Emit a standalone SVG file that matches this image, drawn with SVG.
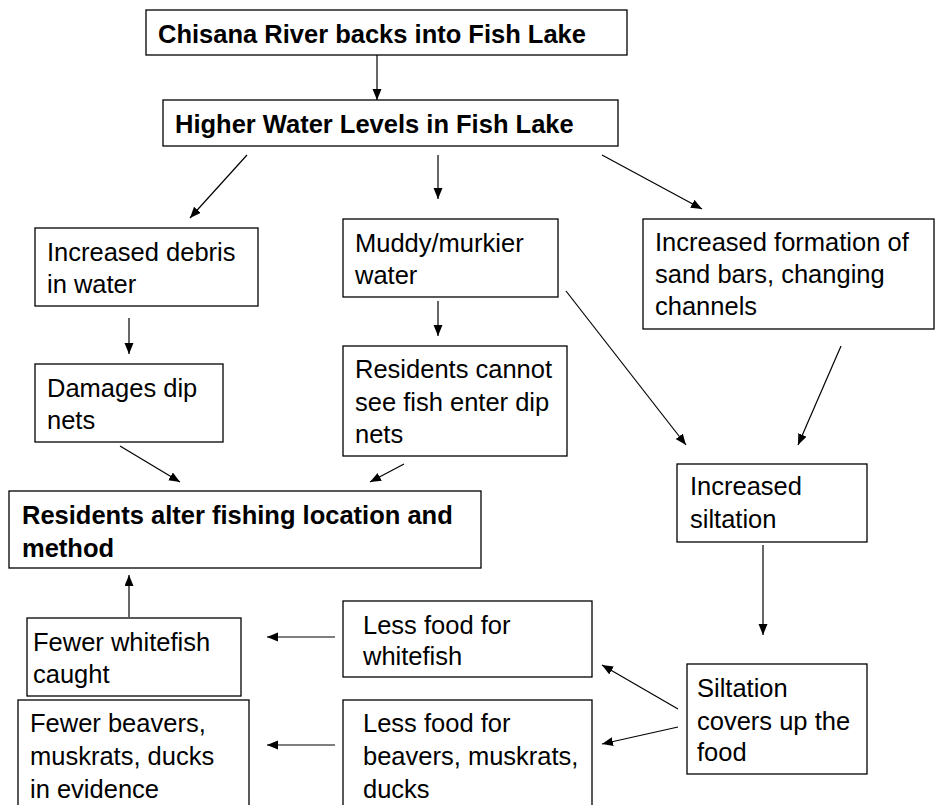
<svg xmlns="http://www.w3.org/2000/svg" width="935" height="805" viewBox="0 0 935 805">
  <defs>
    <marker id="arrow" markerUnits="userSpaceOnUse" markerWidth="12" markerHeight="10" refX="11" refY="4.5" orient="auto">
      <path d="M0,0 L11,4.5 L0,9 Z" fill="#000"/>
    </marker>
  </defs>
  <style>
    .box { fill: #fff; stroke: #000; stroke-width: 1.3; }
    .t { font-family: "Liberation Sans", Arial, sans-serif; font-size: 25.5px; fill: #000; }
    .b { font-weight: bold; }
    .conn line { stroke: #000; stroke-width: 1.2; marker-end: url(#arrow); }
  </style>
  <rect width="935" height="805" fill="#fff"/>

  <!-- connectors -->
  <g id="connectors" class="conn">
    <line x1="377" y1="55" x2="377" y2="100"/>
    <line x1="247" y1="155" x2="190" y2="218"/>
    <line x1="438" y1="155" x2="438" y2="199"/>
    <line x1="602" y1="155" x2="702" y2="209"/>
    <line x1="129" y1="318" x2="129" y2="354"/>
    <line x1="438" y1="301" x2="438" y2="336"/>
    <line x1="120" y1="446" x2="180" y2="482"/>
    <line x1="404" y1="464" x2="370" y2="482"/>
    <line x1="566" y1="291" x2="686" y2="445"/>
    <line x1="841" y1="346" x2="798" y2="445"/>
    <line x1="763" y1="545" x2="763" y2="635"/>
    <line x1="678" y1="709" x2="602" y2="665"/>
    <line x1="678" y1="727" x2="602" y2="744"/>
    <line x1="335" y1="637" x2="267" y2="637"/>
    <line x1="335" y1="745" x2="267" y2="745"/>
    <line x1="129" y1="617" x2="129" y2="575"/>
  </g>

  <g id="chisana">
    <rect class="box" x="146" y="10" width="481" height="45"/>
    <text class="t b" x="158" y="43">Chisana River backs into Fish Lake</text>
  </g>

  <g id="higher-water">
    <rect class="box" x="163" y="100" width="455" height="46"/>
    <text class="t b" x="175" y="133">Higher Water Levels in Fish Lake</text>
  </g>

  <g id="debris">
    <rect class="box" x="35" y="228" width="223" height="78"/>
    <text class="t" x="47" y="261">Increased debris</text>
    <text class="t" x="47" y="293">in water</text>
  </g>

  <g id="muddy">
    <rect class="box" x="343" y="219" width="215" height="78"/>
    <text class="t" x="355" y="252">Muddy/murkier</text>
    <text class="t" x="355" y="284">water</text>
  </g>

  <g id="sandbars">
    <rect class="box" x="643" y="219" width="291" height="110"/>
    <text class="t" x="655" y="251">Increased formation of</text>
    <text class="t" x="655" y="283">sand bars, changing</text>
    <text class="t" x="655" y="315">channels</text>
  </g>

  <g id="damages">
    <rect class="box" x="35" y="364" width="188" height="78"/>
    <text class="t" x="47" y="397">Damages dip</text>
    <text class="t" x="47" y="429">nets</text>
  </g>

  <g id="cannot-see">
    <rect class="box" x="343" y="346" width="224" height="110"/>
    <text class="t" x="355" y="378">Residents cannot</text>
    <text class="t" x="355" y="411">see fish enter dip</text>
    <text class="t" x="355" y="443">nets</text>
  </g>

  <g id="siltation">
    <rect class="box" x="677" y="464" width="190" height="78"/>
    <text class="t" x="690" y="495">Increased</text>
    <text class="t" x="690" y="528">siltation</text>
  </g>

  <g id="alter-fishing">
    <rect class="box" x="9" y="491" width="472" height="77"/>
    <text class="t b" x="22" y="524">Residents alter fishing location and</text>
    <text class="t b" x="22" y="557">method</text>
  </g>

  <g id="fewer-whitefish">
    <rect class="box" x="27" y="618" width="214" height="78"/>
    <text class="t" x="33" y="651">Fewer whitefish</text>
    <text class="t" x="33" y="683">caught</text>
  </g>

  <g id="less-food-whitefish">
    <rect class="box" x="343" y="601" width="249" height="76"/>
    <text class="t" x="363" y="634">Less food for</text>
    <text class="t" x="363" y="665">whitefish</text>
  </g>

  <g id="covers-food">
    <rect class="box" x="687" y="664" width="180" height="110"/>
    <text class="t" x="697" y="697">Siltation</text>
    <text class="t" x="697" y="730">covers up the</text>
    <text class="t" x="697" y="761">food</text>
  </g>

  <g id="fewer-beavers">
    <rect class="box" x="18" y="700" width="231" height="120"/>
    <text class="t" x="30" y="732">Fewer beavers,</text>
    <text class="t" x="30" y="765">muskrats, ducks</text>
    <text class="t" x="30" y="798">in evidence</text>
  </g>

  <g id="less-food-beavers">
    <rect class="box" x="343" y="700" width="249" height="120"/>
    <text class="t" x="363" y="732">Less food for</text>
    <text class="t" x="363" y="765">beavers, muskrats,</text>
    <text class="t" x="363" y="798">ducks</text>
  </g>
</svg>
